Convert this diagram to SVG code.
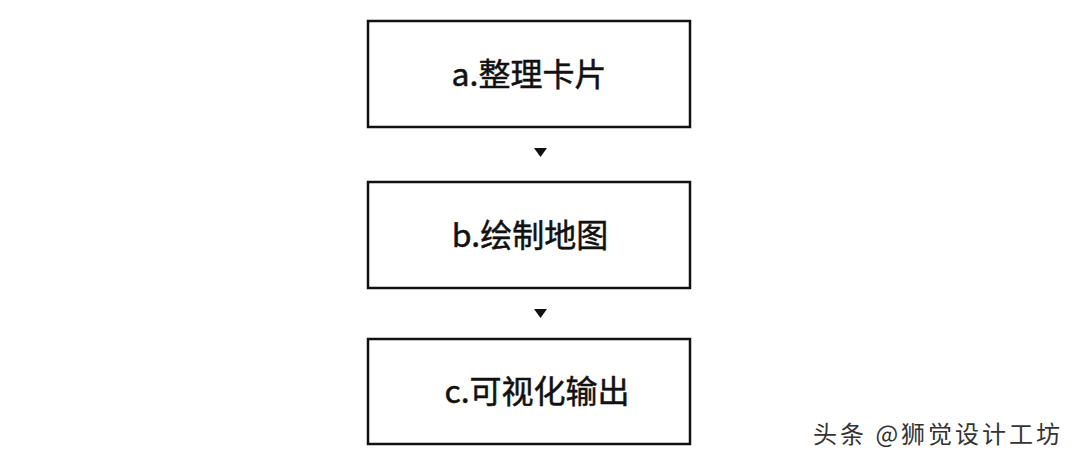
<svg xmlns="http://www.w3.org/2000/svg" width="1080" height="463" viewBox="0 0 1080 463">
<style>
.box{fill:#fff;stroke:#111;stroke-width:2.5}
.lbl{font-family:"Noto Sans CJK SC","Liberation Sans",sans-serif;font-size:32px;fill:#111;stroke:#111;stroke-width:0.5;text-anchor:middle}
.wm{font-family:"Noto Sans CJK SC","Liberation Sans",sans-serif;font-size:24px;letter-spacing:3px;fill:#333}
.arr{fill:#111}
</style>
<rect width="1080" height="463" fill="#fff"/>
<g id="node-a"><rect class="box" x="368" y="21" width="322" height="106"/><text class="lbl" x="529" y="86">a.整理卡片</text></g>
<g id="node-b"><rect class="box" x="368" y="182" width="322" height="106"/><text class="lbl" x="530" y="247">b.绘制地图</text></g>
<g id="node-c"><rect class="box" x="368" y="339" width="322" height="105"/><text class="lbl" x="537" y="403">c.可视化输出</text></g>
<g id="connectors">
<path class="arr" d="M534 148 L547 148 L540.5 157 Z"/>
<path class="arr" d="M534 309 L547 309 L540.5 318 Z"/>
</g>
<text class="wm" x="813" y="443">头条 @狮觉设计工坊</text>
</svg>
